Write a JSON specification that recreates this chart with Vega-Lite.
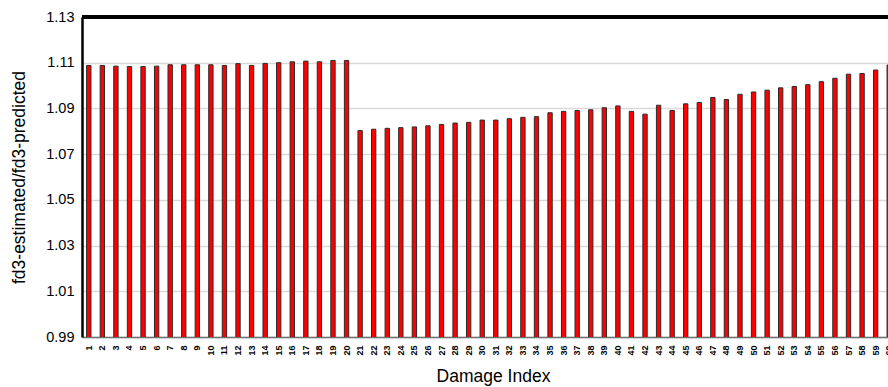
{
  "$schema": "https://vega.github.io/schema/vega-lite/v6.json",
  "autosize": {"type": "none"},
  "width": 806,
  "height": 320,
  "padding": {"left": 82, "top": 17, "right": 0, "bottom": 50},
  "background": "white",
  "config": {
    "view": {"stroke": null},
    "font": "Liberation Sans"
  },
  "data": {
    "values": [
      {"idx": 1, "ratio": 1.1088}, {"idx": 2, "ratio": 1.1088}, {"idx": 3, "ratio": 1.1085},
      {"idx": 4, "ratio": 1.1083}, {"idx": 5, "ratio": 1.1083}, {"idx": 6, "ratio": 1.1085},
      {"idx": 7, "ratio": 1.1091}, {"idx": 8, "ratio": 1.1091}, {"idx": 9, "ratio": 1.1091},
      {"idx": 10, "ratio": 1.1091}, {"idx": 11, "ratio": 1.1088}, {"idx": 12, "ratio": 1.1096},
      {"idx": 13, "ratio": 1.1088}, {"idx": 14, "ratio": 1.1097}, {"idx": 15, "ratio": 1.1100},
      {"idx": 16, "ratio": 1.1104}, {"idx": 17, "ratio": 1.1107}, {"idx": 18, "ratio": 1.1104},
      {"idx": 19, "ratio": 1.1110}, {"idx": 20, "ratio": 1.1110}, {"idx": 21, "ratio": 1.0803},
      {"idx": 22, "ratio": 1.0809}, {"idx": 23, "ratio": 1.0813}, {"idx": 24, "ratio": 1.0816},
      {"idx": 25, "ratio": 1.0819}, {"idx": 26, "ratio": 1.0824}, {"idx": 27, "ratio": 1.0830},
      {"idx": 28, "ratio": 1.0836}, {"idx": 29, "ratio": 1.0839}, {"idx": 30, "ratio": 1.0849},
      {"idx": 31, "ratio": 1.0849}, {"idx": 32, "ratio": 1.0855}, {"idx": 33, "ratio": 1.0861},
      {"idx": 34, "ratio": 1.0864}, {"idx": 35, "ratio": 1.0881}, {"idx": 36, "ratio": 1.0887},
      {"idx": 37, "ratio": 1.0891}, {"idx": 38, "ratio": 1.0894}, {"idx": 39, "ratio": 1.0903},
      {"idx": 40, "ratio": 1.0911}, {"idx": 41, "ratio": 1.0887}, {"idx": 42, "ratio": 1.0875},
      {"idx": 43, "ratio": 1.0914}, {"idx": 44, "ratio": 1.0891}, {"idx": 45, "ratio": 1.0920},
      {"idx": 46, "ratio": 1.0926}, {"idx": 47, "ratio": 1.0948}, {"idx": 48, "ratio": 1.0939},
      {"idx": 49, "ratio": 1.0962}, {"idx": 50, "ratio": 1.0972}, {"idx": 51, "ratio": 1.0980},
      {"idx": 52, "ratio": 1.0990}, {"idx": 53, "ratio": 1.0996}, {"idx": 54, "ratio": 1.1004},
      {"idx": 55, "ratio": 1.1017}, {"idx": 56, "ratio": 1.1032}, {"idx": 57, "ratio": 1.1050},
      {"idx": 58, "ratio": 1.1053}, {"idx": 59, "ratio": 1.1068}, {"idx": 60, "ratio": 1.1090}
    ]
  },
  "layer": [
    {
      "mark": {"type": "bar", "fill": "#ff0000", "stroke": "#2b2b2b", "strokeWidth": 1, "clip": true},
      "encoding": {
        "x": {
          "field": "idx",
          "type": "ordinal",
          "sort": "ascending",
          "scale": {"range": [0, 814], "paddingInner": 0.68, "paddingOuter": 0.34},
          "axis": {
            "title": "Damage Index",
            "titleFont": "Liberation Sans",
            "titleFontSize": 17.5,
            "titleFontWeight": "normal",
            "titleColor": "#000000",
            "titlePadding": 12,
            "titleX": 411,
            "labelAngle": 270,
            "labelFontSize": 9,
            "labelFontWeight": "bold",
            "labelColor": "#000000",
            "labelPadding": 8,
            "ticks": false,
            "domainColor": "#707070",
            "domainWidth": 1.5,
            "grid": false
          }
        },
        "y": {
          "field": "ratio",
          "type": "quantitative",
          "scale": {"domain": [0.99, 1.13], "nice": false, "zero": false},
          "axis": {
            "title": "fd3-estimated/fd3-predicted",
            "titleFont": "Liberation Sans",
            "titleFontSize": 17.5,
            "titleFontWeight": "normal",
            "titleColor": "#000000",
            "titlePadding": 17,
            "values": [0.99, 1.01, 1.03, 1.05, 1.07, 1.09, 1.11, 1.13],
            "format": ".2f",
            "labelFontSize": 14.5,
            "labelColor": "#000000",
            "labelPadding": 8,
            "ticks": false,
            "domainColor": "#000000",
            "domainWidth": 2.5,
            "grid": true,
            "gridColor": "#d9d9d9",
            "gridWidth": 1.5
          }
        }
      }
    },
    {
      "mark": {"type": "rule", "color": "#000000", "strokeWidth": 2.5},
      "encoding": {"y": {"datum": 1.13}}
    }
  ]
}
